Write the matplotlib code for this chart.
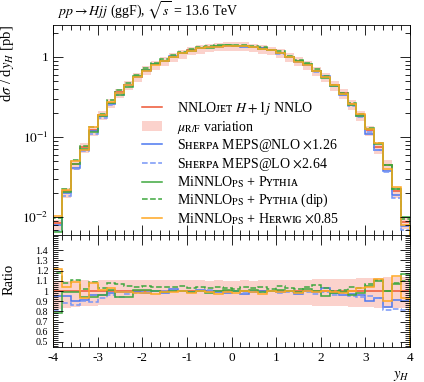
import numpy as np
import matplotlib
matplotlib.use("Agg")
from matplotlib import pyplot as plt
from matplotlib.patches import Patch
from matplotlib.lines import Line2D
from matplotlib.ticker import MultipleLocator, LogLocator, NullFormatter

plt.rcParams['font.family'] = ['Liberation Serif', 'DejaVu Serif', 'DejaVu Sans']
plt.rcParams['mathtext.fontset'] = 'stix'
plt.rcParams['axes.unicode_minus'] = False
plt.rcParams['font.size'] = 9.5

# rapidity bins, width 0.2
edges = np.round(np.arange(-4.0, 4.01, 0.2), 2)

# NNLOJET H+1j NNLO central value [pb]
nnlo = [0.0084, 0.021, 0.046, 0.075, 0.123, 0.188, 0.265, 0.36, 0.447, 0.567,
        0.685, 0.805, 0.895, 1.01, 1.11, 1.21, 1.28, 1.33, 1.36, 1.38,
        1.38, 1.37, 1.33, 1.28, 1.21, 1.12, 1.01, 0.89, 0.80, 0.675,
        0.567, 0.447, 0.352, 0.258, 0.188, 0.121, 0.075, 0.045, 0.021, 0.0086]

# scale variation band (relative to central)
band_up = [1.10, 1.10, 1.11, 1.11, 1.10, 1.11, 1.11, 1.11, 1.11, 1.11,
           1.11, 1.11, 1.11, 1.11, 1.11, 1.11, 1.11, 1.10, 1.11, 1.10,
           1.10, 1.11, 1.10, 1.11, 1.11, 1.11, 1.11, 1.11, 1.11, 1.12,
           1.12, 1.12, 1.12, 1.12, 1.13, 1.13, 1.13, 1.14, 1.14, 1.14]
band_dn = [0.82, 0.83, 0.84, 0.85, 0.85, 0.86, 0.86, 0.86, 0.86, 0.86,
           0.86, 0.86, 0.86, 0.86, 0.86, 0.86, 0.86, 0.86, 0.86, 0.86,
           0.86, 0.86, 0.86, 0.86, 0.86, 0.86, 0.86, 0.86, 0.86, 0.85,
           0.85, 0.85, 0.85, 0.84, 0.84, 0.84, 0.83, 0.83, 0.83, 0.83]

# ratios to NNLOJET
sherpa_nlo = [0.95, 0.95, 0.90, 0.91, 0.96, 0.96, 0.98, 0.99, 0.99, 0.99,
              0.98, 1.00, 0.98, 1.02, 1.00, 0.99, 1.01, 1.00, 0.99, 0.98,
              1.00, 0.97, 0.99, 1.00, 1.00, 0.99, 1.00, 0.97, 1.00, 0.99,
              1.03, 0.98, 0.96, 0.97, 0.96, 0.90, 0.93, 0.84, 0.91, 0.90]
sherpa_lo = [0.81, 0.88, 0.86, 0.90, 0.89, 0.93, 0.96, 0.94, 0.97, 0.98,
             0.99, 1.00, 1.00, 1.00, 1.00, 0.99, 1.00, 1.01, 1.00, 0.99,
             1.00, 0.98, 1.00, 0.99, 1.00, 0.98, 0.99, 0.98, 0.99, 0.97,
             0.99, 0.96, 0.97, 0.95, 0.94, 0.95, 0.93, 0.81, 0.82, 0.81]
pythia = [0.78, 0.99, 0.99, 0.94, 0.94, 0.96, 1.01, 0.94, 0.94, 1.01,
          1.01, 1.00, 0.99, 1.00, 1.00, 0.99, 1.00, 0.98, 1.00, 1.01,
          1.00, 1.00, 1.01, 0.99, 1.00, 1.01, 1.00, 0.99, 1.02, 1.00,
          0.95, 0.98, 0.99, 0.96, 0.98, 1.05, 1.10, 1.00, 1.07, 1.17]
pythia_dip = [1.18, 1.075, 1.11, 1.02, 1.09, 1.03, 1.08, 1.07, 1.05, 1.04,
              1.05, 1.04, 1.04, 1.04, 1.05, 1.03, 1.04, 1.03, 1.04, 1.03,
              1.02, 1.04, 1.03, 1.04, 1.02, 1.05, 1.03, 1.02, 1.04, 1.06,
              1.03, 1.00, 1.01, 1.04, 1.03, 1.07, 1.11, 1.00, 1.08, 1.10]
herwig = [1.22, 1.035, 1.09, 0.93, 1.075, 1.01, 1.03, 0.99, 0.99, 0.98,
          0.98, 0.97, 0.99, 0.99, 1.00, 0.98, 1.00, 0.99, 0.97, 0.99,
          0.98, 1.00, 0.99, 0.97, 1.00, 0.99, 1.00, 0.98, 1.00, 0.99,
          1.00, 0.99, 0.98, 1.00, 1.03, 1.04, 1.12, 0.90, 1.15, 0.93]

c_red = '#ee5533'
c_band = '#fbd2cc'
c_blue = '#4c78f0'
c_blue2 = '#7796f6'
c_green = '#3ea83e'
c_orange = '#ffa722'

series = [
    (sherpa_nlo, c_blue, '-', 'Sʜᴇʀᴘᴀ MEPS@NLO $\\times$1.26'),
    (sherpa_lo, c_blue2, '--', 'Sʜᴇʀᴘᴀ MEPS@LO $\\times$2.64'),
    (pythia, c_green, '-', 'MiNNLO$_{\\mathrm{PS}}$ + Pʏᴛʜɪᴀ'),
    (pythia_dip, c_green, '--', 'MiNNLO$_{\\mathrm{PS}}$ + Pʏᴛʜɪᴀ (dip)'),
    (herwig, c_orange, '-', 'MiNNLO$_{\\mathrm{PS}}$ + Hᴇʀᴡɪɢ $\\times$0.85'),
]

nnlo = np.array(nnlo)
band_up = np.array(band_up)
band_dn = np.array(band_dn)

fig = plt.figure(figsize=(4.24, 3.82), dpi=100)
ax1 = fig.add_axes([0.125, 0.3848, 0.842, 0.5498])
ax2 = fig.add_axes([0.125, 0.0916, 0.842, 0.2932], sharex=ax1)

lw = 1.1
# main panel
ax1.stairs(nnlo * band_up, edges, baseline=nnlo * band_dn, fill=True, color=c_band, lw=0)
ax1.stairs(nnlo, edges, color=c_red, lw=lw)
for r, c, ls, lab in series:
    ax1.stairs(nnlo * np.array(r), edges, color=c, ls=ls, lw=lw)
ax1.set_yscale('log')
ax1.set_ylim(0.006, 2.5)
ax1.set_xlim(-4, 4)
ax1.set_yticks([0.01, 0.1, 1])
ax1.set_yticklabels(['$10^{-2}$', '$10^{-1}$', '1'])
ax1.yaxis.set_minor_locator(LogLocator(base=10, subs=np.arange(2, 10)))
ax1.yaxis.set_minor_formatter(NullFormatter())
ax1.tick_params(labelbottom=False)
ax1.set_ylabel('d$\\sigma$ / d$y_H$ [pb]', loc='top', fontsize=10.5)
ax1.yaxis.set_label_coords(-0.105, 1.0)
ax1.text(0.01, 1.015, '$pp \\rightarrow Hjj$ (ggF), $\\sqrt{s}$ = 13.6 TeV',
         transform=ax1.transAxes, ha='left', va='bottom', fontsize=10)

# ratio panel
ax2.stairs(band_up, edges, baseline=band_dn, fill=True, color=c_band, lw=0)
ax2.stairs(np.ones(len(nnlo)), edges, color=c_red, lw=lw)
for r, c, ls, lab in series:
    ax2.stairs(r, edges, color=c, ls=ls, lw=lw)
ax2.set_ylim(0.45, 1.55)
ax2.set_yticks(np.round(np.arange(0.5, 1.41, 0.1), 1))
ax2.set_yticklabels(['%g' % v for v in np.round(np.arange(0.5, 1.41, 0.1), 1)])
ax2.yaxis.set_minor_locator(MultipleLocator(0.02))
ax2.set_ylabel('Ratio', fontsize=10.5)
ax2.yaxis.set_label_coords(-0.105, 0.6)
ax2.set_xlabel('$y_H$', loc='right', fontsize=10.5)
ax2.set_xticks(np.arange(-4, 5, 1))
ax2.set_xticklabels(['-4', '-3', '-2', '-1', '0', '1', '2', '3', '4'])

for ax in (ax1, ax2):
    ax.xaxis.set_minor_locator(MultipleLocator(0.2))
    ax.tick_params(which='both', direction='in', top=True, right=True, labelsize=9.5)
    ax.tick_params(which='major', length=7, width=0.6)
    ax.tick_params(which='minor', length=3.5, width=0.6)
    for s in ax.spines.values():
        s.set_linewidth(0.6)
ax2.tick_params(axis='y', which='major', labelsize=7.2)

# legend
handles = [Line2D([], [], color=c_red, lw=lw), Patch(facecolor=c_band, edgecolor='none')]
labels = ['NNLOᴊᴇᴛ $H+1j$ NNLO', '$\\mu_{\\mathrm{R/F}}$ variation']
for r, c, ls, lab in series:
    handles.append(Line2D([], [], color=c, ls=ls, lw=lw))
    labels.append(lab)
ax1.legend(handles, labels, loc='upper left', bbox_to_anchor=(142 / 424, 1 - 99 / 382),
           bbox_transform=fig.transFigure, frameon=False, fontsize=10, borderpad=0,
           borderaxespad=0, handlelength=1.45, handletextpad=1.05, labelspacing=0.12)

plt.savefig('out.png', dpi=100)
